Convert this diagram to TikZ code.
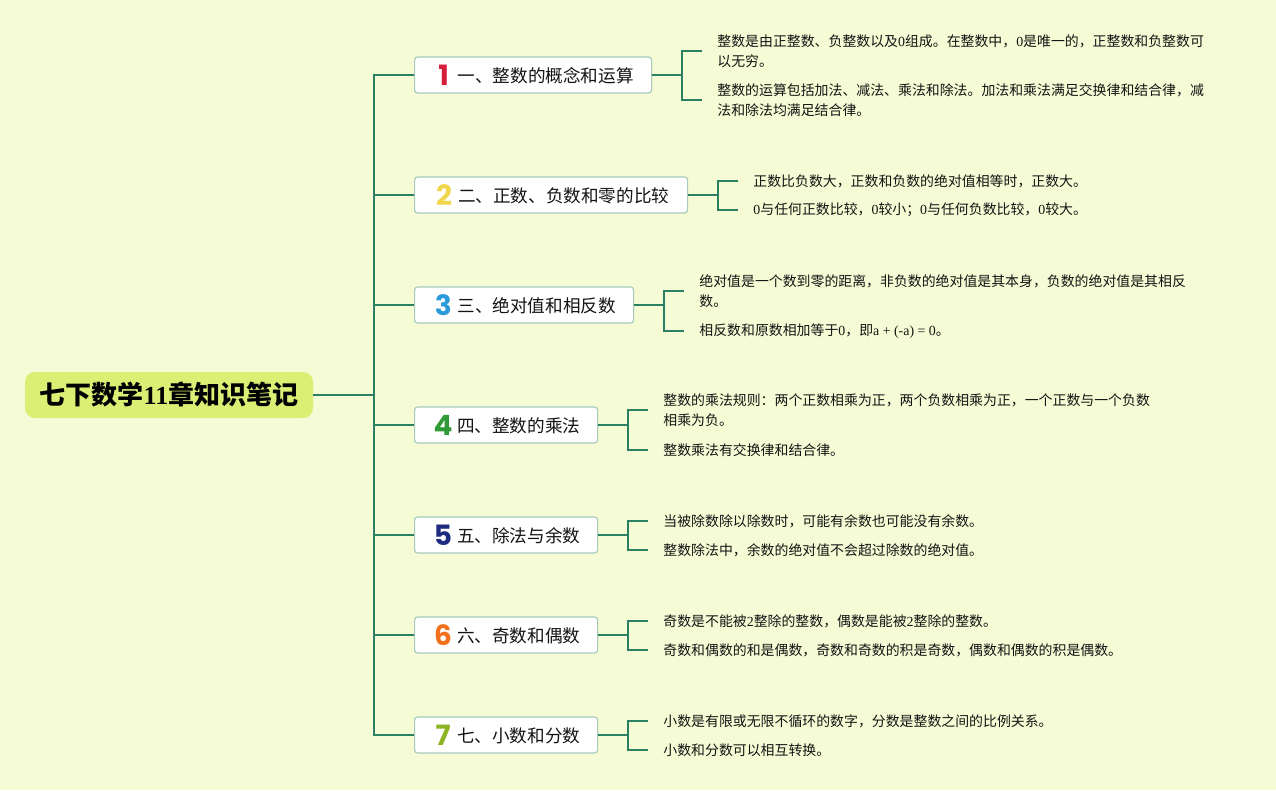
\documentclass[tikz,border=0pt]{standalone}
\usepackage{fontspec}
\setmainfont{Noto Sans CJK SC}
\newfontfamily\latfont{Liberation Serif}
\newfontfamily\numfont{Poppins}
\usetikzlibrary{positioning, calc}
\definecolor{canvas-bg}{HTML}{F5FBD4}
\definecolor{root-fill}{HTML}{DAEF73}
\definecolor{stem}{HTML}{2B7F62}
\definecolor{box-edge}{HTML}{A8CABD}
\definecolor{ink}{HTML}{141414}
\definecolor{num-one}{HTML}{D61F3C}
\definecolor{num-two}{HTML}{F0D64A}
\definecolor{num-three}{HTML}{2B9ADB}
\definecolor{num-four}{HTML}{2F9A36}
\definecolor{num-five}{HTML}{1E2C80}
\definecolor{num-six}{HTML}{F2711C}
\definecolor{num-seven}{HTML}{8DB423}

\newcommand{\ls}[1]{{\latfont #1}}
\newcommand{\chapnum}[2]{\makebox[22pt][c]{\raisebox{-2.5pt}{\numfont\bfseries\fontsize{28}{28}\selectfont\textcolor{#1}{#2}}}\hspace{3pt}}

\begin{document}
\begin{tikzpicture}[
    x=1pt, y=-1pt,
    % coordinates are read as pixels of the 1276 x 790 canvas, y downwards
    root/.style={
        rectangle, rounded corners=10pt,
        fill=root-fill, draw=none,
        minimum width=288pt, minimum height=46pt,
        font=\fontsize{26}{28}\selectfont\bfseries,
        text=black,
    },
    chapter/.style={
        rectangle, rounded corners=3pt,
        draw=box-edge, line width=1.2pt,
        fill=white,
        minimum height=36pt, inner xsep=8pt,
        anchor=west,
        font=\fontsize{17.6}{20}\selectfont,
        text=ink,
    },
    leaf/.style={
        anchor=west, align=left,
        inner xsep=15pt, inner ysep=2pt,
        font=\fontsize{13.9}{20}\selectfont,
        text=ink,
    },
    trunk/.style={draw=stem, line width=2pt},
]

\useasboundingbox (0,0) rectangle (1276,790);
\fill[canvas-bg] (0,0) rectangle (1276,790);

% =====================================================================
% ROOT and SPINE
% =====================================================================

\node[root] (root) at (169,395) {七下数学\ls{11}章知识笔记};
\coordinate (spine) at (374,395);
\draw[trunk] (root.east) -- (spine);

% =====================================================================
% CHAPTERS — all start at x=414
% =====================================================================

\node[chapter, minimum width=237pt] (ch1) at (414,75)  {\chapnum{num-one}{1}一、整数的概念和运算};
\node[chapter, minimum width=273pt] (ch2) at (414,195) {\chapnum{num-two}{2}二、正数、负数和零的比较};
\node[chapter, minimum width=219pt] (ch3) at (414,305) {\chapnum{num-three}{3}三、绝对值和相反数};
\node[chapter, minimum width=183pt] (ch4) at (414,425) {\chapnum{num-four}{4}四、整数的乘法};
\node[chapter, minimum width=183pt] (ch5) at (414,535) {\chapnum{num-five}{5}五、除法与余数};
\node[chapter, minimum width=183pt] (ch6) at (414,635) {\chapnum{num-six}{6}六、奇数和偶数};
\node[chapter, minimum width=183pt] (ch7) at (414,735) {\chapnum{num-seven}{7}七、小数和分数};

\draw[trunk] (spine) |- (ch1.west);
\draw[trunk] (spine) |- (ch2.west);
\draw[trunk] (spine) |- (ch3.west);
\draw[trunk] (spine) |- (ch4.west);
\draw[trunk] (spine) |- (ch5.west);
\draw[trunk] (spine) |- (ch6.west);
\draw[trunk] (spine) |- (ch7.west);

% bracket points, 30pt right of each chapter box
\coordinate (k1) at ([xshift=30pt]ch1.east);
\coordinate (k2) at ([xshift=30pt]ch2.east);
\coordinate (k3) at ([xshift=30pt]ch3.east);
\coordinate (k4) at ([xshift=30pt]ch4.east);
\coordinate (k5) at ([xshift=30pt]ch5.east);
\coordinate (k6) at ([xshift=30pt]ch6.east);
\coordinate (k7) at ([xshift=30pt]ch7.east);

% =====================================================================
% NOTES — two per chapter
% =====================================================================

\node[leaf] (n1a) at ([shift={(20pt,24pt)}]k1) {整数是由正整数、负整数以及\ls{0}组成。在整数中，\ls{0}是唯一的，正整数和负整数可\\以无穷。};
\node[leaf] (n1b) at ([shift={(20pt,-25pt)}]k1) {整数的运算包括加法、减法、乘法和除法。加法和乘法满足交换律和结合律，减\\法和除法均满足结合律。};

\node[leaf] (n2a) at ([shift={(20pt,14pt)}]k2) {正数比负数大，正数和负数的绝对值相等时，正数大。};
\node[leaf] (n2b) at ([shift={(20pt,-15pt)}]k2) {\ls{0}与任何正数比较，\ls{0}较小；\ls{0}与任何负数比较，\ls{0}较大。};

\node[leaf] (n3a) at ([shift={(20pt,14pt)}]k3) {绝对值是一个数到零的距离，非负数的绝对值是其本身，负数的绝对值是其相反\\数。};
\node[leaf] (n3b) at ([shift={(20pt,-26pt)}]k3) {相反数和原数相加等于\ls{0}，即\ls{a + (-a) = 0}。};

\node[leaf] (n4a) at ([shift={(20pt,15pt)}]k4) {整数的乘法规则：两个正数相乘为正，两个负数相乘为正，一个正数与一个负数\\相乘为负。};
\node[leaf] (n4b) at ([shift={(20pt,-25pt)}]k4) {整数乘法有交换律和结合律。};

\node[leaf] (n5a) at ([shift={(20pt,14pt)}]k5) {当被除数除以除数时，可能有余数也可能没有余数。};
\node[leaf] (n5b) at ([shift={(20pt,-15pt)}]k5) {整数除法中，余数的绝对值不会超过除数的绝对值。};

\node[leaf] (n6a) at ([shift={(20pt,14pt)}]k6) {奇数是不能被\ls{2}整除的整数，偶数是能被\ls{2}整除的整数。};
\node[leaf] (n6b) at ([shift={(20pt,-15pt)}]k6) {奇数和偶数的和是偶数，奇数和奇数的积是奇数，偶数和偶数的积是偶数。};

\node[leaf] (n7a) at ([shift={(20pt,14pt)}]k7) {小数是有限或无限不循环的数字，分数是整数之间的比例关系。};
\node[leaf] (n7b) at ([shift={(20pt,-15pt)}]k7) {小数和分数可以相互转换。};

% brackets
\draw[trunk] (ch1.east) -- (k1) |- (n1a.west);  \draw[trunk] (k1) |- (n1b.west);
\draw[trunk] (ch2.east) -- (k2) |- (n2a.west);  \draw[trunk] (k2) |- (n2b.west);
\draw[trunk] (ch3.east) -- (k3) |- (n3a.west);  \draw[trunk] (k3) |- (n3b.west);
\draw[trunk] (ch4.east) -- (k4) |- (n4a.west);  \draw[trunk] (k4) |- (n4b.west);
\draw[trunk] (ch5.east) -- (k5) |- (n5a.west);  \draw[trunk] (k5) |- (n5b.west);
\draw[trunk] (ch6.east) -- (k6) |- (n6a.west);  \draw[trunk] (k6) |- (n6b.west);
\draw[trunk] (ch7.east) -- (k7) |- (n7a.west);  \draw[trunk] (k7) |- (n7b.west);

\end{tikzpicture}
\end{document}
